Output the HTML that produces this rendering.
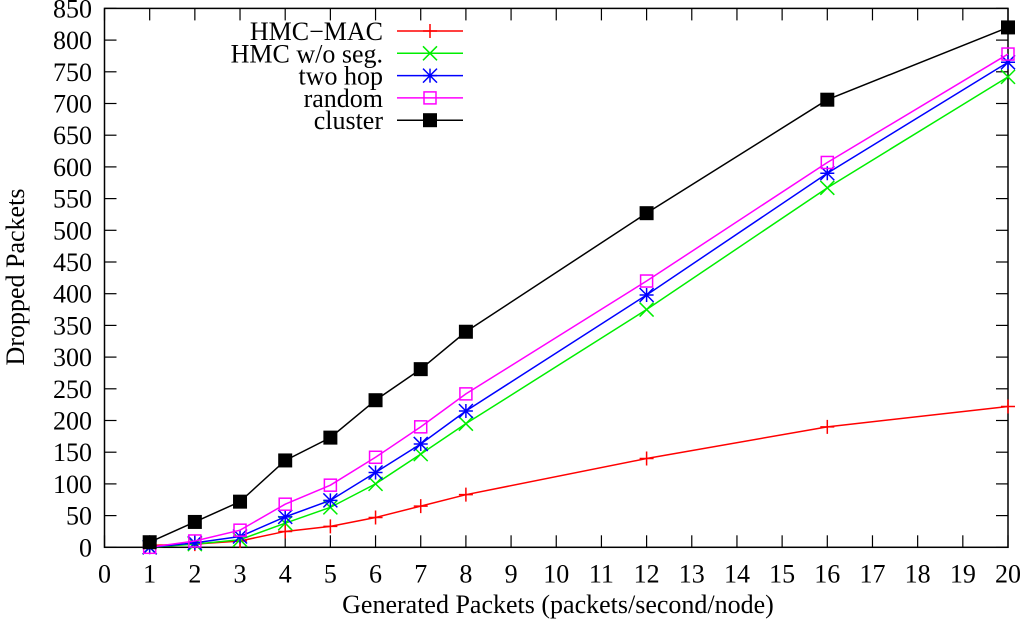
<!DOCTYPE html>
<html><head><meta charset="utf-8"><style>
body{margin:0;background:#fff}
svg text{font-family:"Liberation Serif",serif;fill:#000}
</style></head><body>
<svg id="c" width="1024" height="620" xmlns="http://www.w3.org/2000/svg"></svg>
<script>
const xTicks=[0,1,2,3,4,5,6,7,8,9,10,11,12,13,14,15,16,17,18,19,20];
const yTicks=[0,50,100,150,200,250,300,350,400,450,500,550,600,650,700,750,800,850];
const xs=[1,2,3,4,5,6,7,8,12,16,20];
const seriesNames=["HMC\u2212MAC","HMC w/o seg.","two hop","random","cluster"];
const hmcMac=[3,5,10,25,33,47,65,83,140,190,222];
const hmcNoSeg=[0,5,12,38,63,100,147,195,375,567,742];
const twoHop=[0,7,17,48,74,118,163,215,398,590,765];
const random=[0,10,27,68,98,142,190,242,420,607,778];
const cluster=[8,40,72,137,173,232,281,340,527,706,820];
const seriesVals=[hmcMac,hmcNoSeg,twoHop,random,cluster];
const colors=["#ff0000","#00ee00","#0000ff","#ff00ff","#000000"];
const markers=["plus","x","star","sq","fsq"];
const L=104.5,R=1008,T=8.4,B=547.3;
const X=v=>L+(v-0)/20*(R-L);
const Y=v=>B-(v/850)*(B-T);
const svg=document.getElementById('c');
const NS="http://www.w3.org/2000/svg";
function mk(t,a,p){const e=document.createElementNS(NS,t);for(const k in a)e.setAttribute(k,a[k]);(p||svg).appendChild(e);return e;}
let e;
e=mk('rect',{x:L,y:T,width:R-L,height:B-T,fill:'none',stroke:'#000','stroke-width':1.5});


xTicks.forEach(v=>{const x=X(v);
 mk('line',{x1:x,y1:B,x2:x,y2:B-12,stroke:'#000','stroke-width':1.2});
 mk('line',{x1:x,y1:T,x2:x,y2:T+12,stroke:'#000','stroke-width':1.2});
 const t=mk('text',{x:x,y:B+35,'text-anchor':'middle','font-size':26});t.textContent=v;
 
 
});
yTicks.forEach(v=>{const y=Y(v);
 mk('line',{x1:L,y1:y,x2:L+12,y2:y,stroke:'#000','stroke-width':1.2});
 mk('line',{x1:R,y1:y,x2:R-12,y2:y,stroke:'#000','stroke-width':1.2});
 const t=mk('text',{x:92,y:y+9,'text-anchor':'end','font-size':26});t.textContent=v;
 
 
});
e=mk('text',{x:558,y:613,'text-anchor':'middle','font-size':26});e.textContent="Generated Packets (packets/second/node)";


e=mk('text',{x:0,y:0,'text-anchor':'middle','font-size':26,transform:'translate(24,277) rotate(-90)'});e.textContent="Dropped Packets";


function marker(g,type,x,y,c){
 const s=7;
 if(type==='plus'){mk('path',{d:`M${x-s} ${y}H${x+s}M${x} ${y-s}V${y+s}`,stroke:c,'stroke-width':1.5},g);}
 else if(type==='x'){mk('path',{d:`M${x-s} ${y-s}L${x+s} ${y+s}M${x-s} ${y+s}L${x+s} ${y-s}`,stroke:c,'stroke-width':1.5},g);}
 else if(type==='star'){mk('path',{d:`M${x-s} ${y}H${x+s}M${x} ${y-s}V${y+s}M${x-s} ${y-s}L${x+s} ${y+s}M${x-s} ${y+s}L${x+s} ${y-s}`,stroke:c,'stroke-width':1.5},g);}
 else if(type==='sq'){mk('rect',{x:x-6,y:y-6,width:12,height:12,fill:'none',stroke:c,'stroke-width':1.5},g);}
 else {mk('rect',{x:x-7,y:y-7,width:14,height:14,fill:c},g);}
}
seriesVals.forEach((vals,i)=>{
 const g=mk('g',{});
 
 
 mk('polyline',{points:xs.map((x,j)=>X(x)+','+Y(vals[j])).join(' '),fill:'none',stroke:colors[i],'stroke-width':1.5},g);
 xs.forEach((x,j)=>marker(g,markers[i],X(x),Y(vals[j]),colors[i]));
 const ly=31+i*22.3;
 const lg=mk('g',{});
 
 
 const t=mk('text',{x:383,y:ly+9,'text-anchor':'end','font-size':26},lg);t.textContent=seriesNames[i];
 mk('line',{x1:397,y1:ly,x2:463,y2:ly,stroke:colors[i],'stroke-width':1.5},lg);
 marker(lg,markers[i],430,ly,colors[i]);
});
</script>
</body></html>
